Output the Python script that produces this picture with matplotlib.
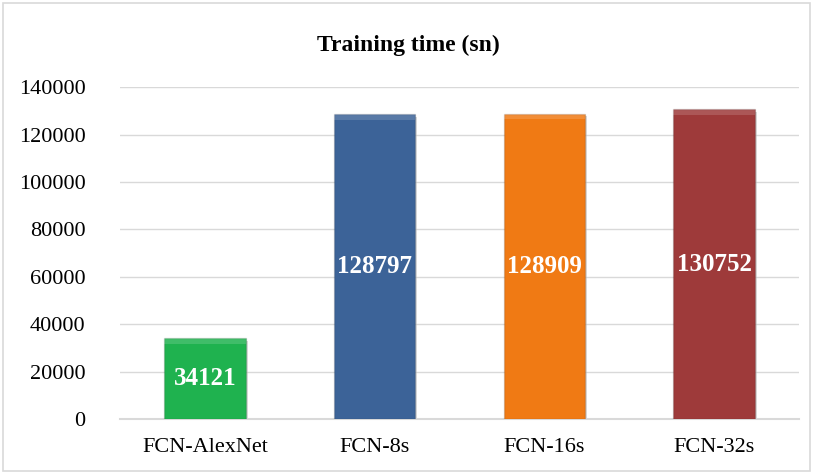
import matplotlib
matplotlib.use("Agg")
import matplotlib.pyplot as plt
from matplotlib.patches import Rectangle

# data
models = ["FCN-AlexNet", "FCN-8s", "FCN-16s", "FCN-32s"]
times = [34121, 128797, 128909, 130752]
colors = ["#1fb24f", "#3c6398", "#f07a14", "#9e3a3a"]
yticks = [0, 20000, 40000, 60000, 80000, 100000, 120000, 140000]

plt.rcParams["font.family"] = ["Liberation Serif", "DejaVu Serif"]

fig = plt.figure(figsize=(8.17, 4.74), dpi=100)
ax = fig.add_axes([0.147, 0.116, 0.831, 0.7])

x = range(len(models))
bars = ax.bar(x, times, width=0.48, color=colors, zorder=3,
              edgecolor="#00000022", linewidth=1.0)
# small shadow under bars + light bevel strip on top
for b in bars:
    ax.add_patch(Rectangle((b.get_x() + 0.012, -1200), b.get_width(), b.get_height(),
                           color="#bbbbbb", alpha=0.5, zorder=2, linewidth=0))
    ax.add_patch(Rectangle((b.get_x(), b.get_height() - 2500), b.get_width(), 2500,
                           color="white", alpha=0.15, zorder=3.5, linewidth=0))

for i, v in enumerate(times):
    ax.text(i, v / 2, str(v), ha="center", va="center", color="white",
            fontsize=18, fontweight="bold", zorder=4)

ax.set_ylim(0, 140000)
ax.set_xlim(-0.5, len(models) - 0.5)
ax.set_yticks(yticks)
ax.set_yticklabels([str(t) for t in yticks], fontsize=16)
ax.set_xticks(list(x))
ax.set_xticklabels(models, fontsize=16)
ax.tick_params(length=0)
ax.tick_params(axis="x", pad=14)
ax.tick_params(axis="y", pad=25)
ax.grid(axis="y", color="#d9d9d9", linewidth=1, zorder=0)
for s in ["top", "right", "left"]:
    ax.spines[s].set_visible(False)
ax.spines["bottom"].set_color("#d9d9d9")
ax.spines["bottom"].set_linewidth(1.5)

fig.text(0.5, 0.905, "Training time (sn)", ha="center", va="center",
         fontsize=17, fontweight="bold")

fig.patches.append(Rectangle((0.004, 0.006), 0.987, 0.988, transform=fig.transFigure,
                             fill=False, edgecolor="#d9d9d9", linewidth=1.2))

fig.savefig("out.png", dpi=100)
